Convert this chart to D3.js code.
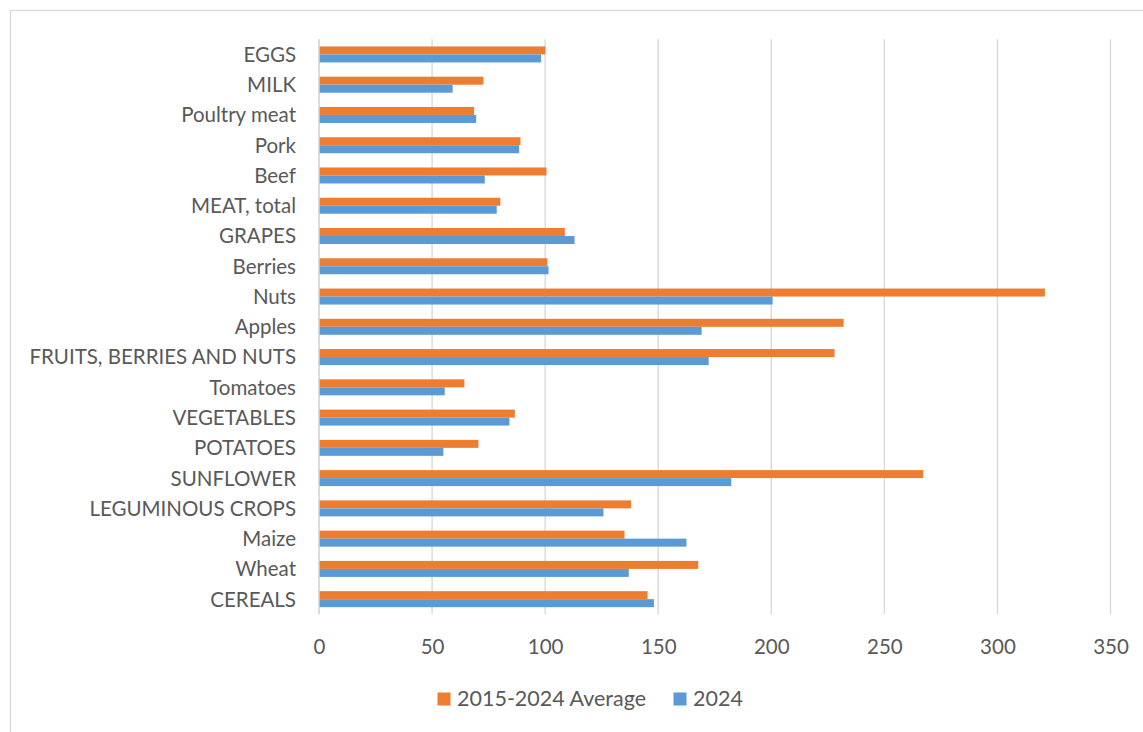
<!DOCTYPE html>
<html>
<head>
<meta charset="utf-8">
<script src="https://cdn.jsdelivr.net/npm/d3@7"></script>
<style>
  html, body { margin: 0; padding: 0; background: #fff; }
  svg { display: block; }
  text { font-family: Lato, "Open Sans", sans-serif; fill: #595959; }
</style>
</head>
<body>
<svg id="chart" width="1143" height="732"></svg>
<script>
// Categories, top to bottom as shown
const categories = ["EGGS", "MILK", "Poultry meat", "Pork", "Beef", "MEAT, total", "GRAPES", "Berries",
  "Nuts", "Apples", "FRUITS, BERRIES AND NUTS", "Tomatoes", "VEGETABLES", "POTATOES", "SUNFLOWER",
  "LEGUMINOUS CROPS", "Maize", "Wheat", "CEREALS"];
const seriesNames = ["2015-2024 Average", "2024"];
const average = [100.1, 72.7, 68.6, 89.1, 100.6, 80.2, 108.7, 101.0, 321.0, 232.0, 228.0, 64.3, 86.6, 70.5, 267.2, 138.0, 135.1, 167.7, 145.3];
const year2024 = [98.2, 59.1, 69.5, 88.5, 73.3, 78.6, 113.0, 101.5, 200.6, 169.2, 172.3, 55.6, 84.2, 55.0, 182.3, 125.8, 162.5, 137.0, 148.1];
const xTicks = [0, 50, 100, 150, 200, 250, 300, 350];
const colors = ["#ED7D31", "#5B9BD5"];

const svg = d3.select("#chart");

// outer chart border
svg.append("rect").attr("x", 10.5).attr("y", 10.5).attr("width", 1142).attr("height", 732)
  .attr("fill", "none").attr("stroke", "#D9D9D9").attr("stroke-width", 1.3);

const plot = { left: 319, right: 1110.5, top: 39.3, bottom: 614.3 };

const x = d3.scaleLinear().domain([0, 350]).range([plot.left, plot.right]);
const pIn = 1 - 16 / ((plot.bottom - plot.top) / categories.length);
const y = d3.scaleBand().domain(categories).range([plot.top, plot.bottom])
  .paddingInner(pIn).paddingOuter(pIn / 2);
const ySub = d3.scaleBand().domain(seriesNames).range([0, y.bandwidth()]);

// gridlines
svg.append("g").selectAll("line").data(xTicks).join("line")
  .attr("x1", d => x(d)).attr("x2", d => x(d))
  .attr("y1", plot.top).attr("y2", plot.bottom)
  .attr("stroke", "#D9D9D9").attr("stroke-width", 1.4);

// bars
const data = categories.map((c, i) => ({ cat: c, vals: [average[i], year2024[i]] }));
const groups = svg.append("g").selectAll("g").data(data).join("g")
  .attr("transform", d => `translate(0,${y(d.cat)})`);
groups.selectAll("rect").data(d => d.vals.map((v, j) => ({ v, s: seriesNames[j], j })))
  .join("rect")
  .attr("x", x(0))
  .attr("y", d => ySub(d.s))
  .attr("width", d => x(d.v) - x(0))
  .attr("height", ySub.bandwidth())
  .attr("fill", d => colors[d.j]);

// x axis labels
const xAxis = d3.axisBottom(x).tickValues(xTicks).tickSize(0).tickPadding(0);
const gx = svg.append("g").attr("transform", `translate(0,${plot.bottom})`).call(xAxis);
gx.select(".domain").remove();
gx.selectAll("text").attr("dy", null).attr("y", 39.3).attr("font-size", 20.5)
  .attr("font-family", "Lato").attr("fill", "#595959");

// y axis labels
const yAxis = d3.axisLeft(y).tickSize(0).tickPadding(23);
const gy = svg.append("g").attr("transform", `translate(${plot.left},0)`).call(yAxis);
gy.select(".domain").remove();
gy.selectAll("text").attr("font-size", 20.5).attr("font-family", "Lato")
  .attr("fill", "#595959").attr("dy", "0.36em");

// category axis line
svg.append("line").attr("x1", x(0)).attr("x2", x(0)).attr("y1", plot.top).attr("y2", plot.bottom)
  .attr("stroke", "#D9D9D9").attr("stroke-width", 1.4);

// legend
const legendX = [437.5, 673.5];
const lg = svg.append("g").selectAll("g").data(seriesNames).join("g")
  .attr("transform", (d, i) => `translate(${legendX[i]},692.5)`);
lg.append("rect").attr("width", 13).attr("height", 13).attr("fill", (d, i) => colors[i]);
lg.append("text").attr("x", 19.5).attr("y", 13.8).attr("font-size", 21.5).text(d => d);
</script>
</body>
</html>
